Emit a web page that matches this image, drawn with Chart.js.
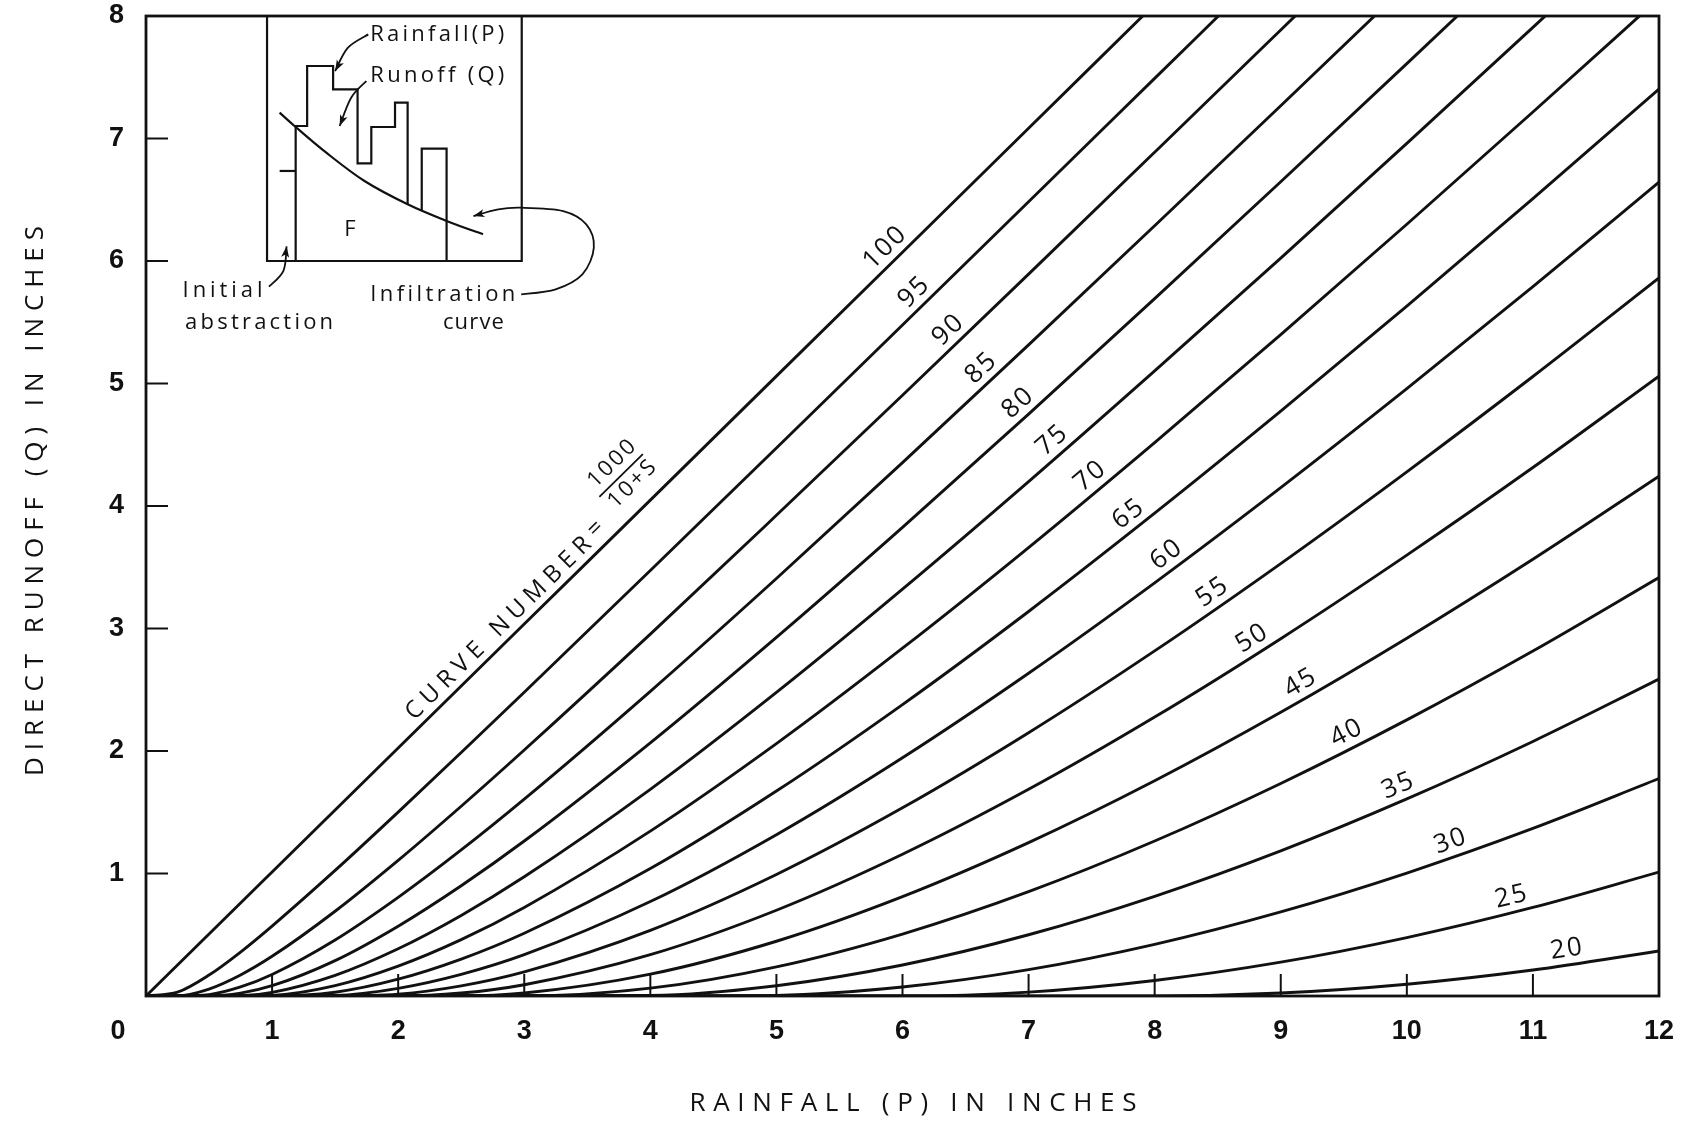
<!DOCTYPE html>
<html><head><meta charset="utf-8">
<script src="https://cdn.jsdelivr.net/npm/chart.js@4.4.1/dist/chart.umd.min.js"></script>
<style>html,body{margin:0;padding:0;background:#fff;}canvas{display:block;}</style>
</head><body>
<canvas id="c" width="1689" height="1128"></canvas>
<script>
// ---- data ----
const rainfall = [0,0.25,0.5,0.75,1,1.5,2,2.5,3,4,5,6,7,8,9,10,11,12];
const curveNumbers = [100,95,90,85,80,75,70,65,60,55,50,45,40,35,30,25,20];
const runoffCN100 = [0,0.253,0.506,0.759,1.012,1.518,2.024,2.53,3.036,4.048,5.06,6.072,7.084,8.096,9.108,10.12,11.132,12.144];
const runoffCN95 = [0,0.031,0.171,0.359,0.571,1.025,1.501,1.988,2.479,3.473,4.473,5.477,6.483,7.491,8.499,9.509,10.518,11.528];
const runoffCN90 = [0,0.001,0.057,0.172,0.324,0.692,1.107,1.549,2.008,2.954,3.924,4.904,5.893,6.888,7.886,8.885,9.888,10.892];
const runoffCN85 = [0,0,0.011,0.074,0.176,0.457,0.805,1.192,1.607,2.487,3.408,4.354,5.315,6.288,7.267,8.253,9.243,10.235];
const runoffCN80 = [0,0,0,0.023,0.084,0.289,0.570,0.900,1.265,2.067,2.928,3.826,4.750,5.693,6.647,7.611,8.583,9.559];
const runoffCN75 = [0,0,0,0.002,0.030,0.169,0.386,0.658,0.973,1.687,2.478,3.321,4.199,5.103,6.023,6.960,7.907,8.862];
const runoffCN70 = [0,0,0,0,0.005,0.085,0.244,0.460,0.723,1.346,2.060,2.839,3.661,4.518,5.399,6.300,7.216,8.144];
const runoffCN65 = [0,0,0,0,0,0.031,0.137,0.301,0.512,1.040,1.673,2.379,3.139,3.941,4.774,5.632,6.509,7.404];
const runoffCN60 = [0,0,0,0,0,0.004,0.062,0.176,0.337,0.771,1.317,1.945,2.635,3.373,4.150,4.958,5.790,6.643];
const runoffCN55 = [0,0,0,0,0,0,0.015,0.083,0.197,0.536,0.992,1.536,2.149,2.817,3.530,4.279,5.057,5.862];
const runoffCN50 = [0,0,0,0,0,0,0,0.024,0.092,0.337,0.700,1.157,1.687,2.277,2.917,3.599,4.314,5.060];
const runoffCN45 = [0,0,0,0,0,0,0,0,0.024,0.178,0.447,0.811,1.252,1.757,2.316,2.921,3.565,4.243];
const runoffCN40 = [0,0,0,0,0,0,0,0,0,0.064,0.238,0.506,0.852,1.265,1.735,2.254,2.816,3.416];
const runoffCN35 = [0,0,0,0,0,0,0,0,0,0.004,0.084,0.253,0.500,0.814,1.185,1.609,2.078,2.587];
const runoffCN30 = [0,0,0,0,0,0,0,0,0,0,0.005,0.073,0.215,0.422,0.687,1.004,1.368,1.775];
const runoffCN25 = [0,0,0,0,0,0,0,0,0,0,0,0,0.032,0.127,0.276,0.477,0.723,1.012];
const runoffCN20 = [0,0,0,0,0,0,0,0,0,0,0,0,0,0,0.024,0.096,0.212,0.368];
const runoffSeries = [runoffCN100,runoffCN95,runoffCN90,runoffCN85,runoffCN80,runoffCN75,runoffCN70,runoffCN65,runoffCN60,runoffCN55,runoffCN50,runoffCN45,runoffCN40,runoffCN35,runoffCN30,runoffCN25,runoffCN20];
const xTickValues = [0,1,2,3,4,5,6,7,8,9,10,11,12];
const yTickValues = [0,1,2,3,4,5,6,7,8];
const xTitle = 'RAINFALL (P) IN INCHES';
const yTitle = 'DIRECT RUNOFF (Q) IN INCHES';

// ---- annotation placement (rainfall value where each curve label sits) ----
const labelRainfall = [5.95,6.18,6.45,6.71,7.0,7.27,7.57,7.87,8.17,8.53,8.84,9.22,9.58,9.98,10.39,10.86,11.29];
const noteRainfall = 2.15;

// ---- inset sketch, in chart units (P, Q) ----
const insetBox = [[0.96,8],[0.96,6],[2.98,6],[2.98,8]];
const insetLines = [
  [[1.187,6.0],[1.187,7.102],[1.278,7.102],[1.278,7.592],[1.484,7.592],[1.484,7.401],[1.678,7.401],[1.678,6.797],[1.787,6.797],[1.787,7.094],[1.975,7.094],[1.975,7.293],[2.075,7.293],[2.075,6.457]],
  [[2.187,6.408],[2.187,6.917],[2.384,6.917],[2.384,6.0]],
  [[1.06,6.735],[1.187,6.735]]
];
const infiltrationCurve = [[1.06,7.211],[1.187,7.094],[1.43,6.884],[1.733,6.653],[2.075,6.463],[2.384,6.327],[2.673,6.218]];
const insetArrows = [
  [[1.763,7.85],[1.60,7.74],[1.50,7.55]],
  [[1.748,7.469],[1.627,7.333],[1.536,7.102]],
  [[0.975,5.79],[1.09,5.92],[1.115,6.12]],
  [[2.976,5.728],[3.249,5.769],[3.461,5.891],[3.552,6.109],[3.492,6.299],[3.309,6.408],[2.976,6.435],[2.794,6.422],[2.597,6.367]]
];
const insetTexts = [
  ['Rainfall(P)',1.779,7.85,134],
  ['Runoff (Q)',1.779,7.51,134],
  ['Initial',0.29,5.755,80],
  ['abstraction',0.31,5.497,148],
  ['Infiltration',1.779,5.728,145],
  ['curve',2.355,5.497,61],
  ['F',1.62,6.258,0]
];

const INK = '#111';

function fitText(ctx, text, x, y, width) {
  ctx.letterSpacing = '0px';
  const w0 = ctx.measureText(text).width;
  const n = text.length;
  if (width > 0 && n > 1) {
    const sp = (width - w0) / (n - 1);
    ctx.letterSpacing = sp + 'px';
  }
  ctx.textAlign = 'left';
  ctx.fillText(text, x, y);
  ctx.letterSpacing = '0px';
}

function smoothPath(ctx, pts) {
  ctx.beginPath();
  ctx.moveTo(pts[0][0], pts[0][1]);
  let lastCp = pts[0];
  for (let i = 0; i < pts.length - 1; i++) {
    const p0 = pts[i - 1] || pts[i], p1 = pts[i], p2 = pts[i + 1], p3 = pts[i + 2] || pts[i + 1];
    const c1 = [p1[0] + (p2[0] - p0[0]) / 6, p1[1] + (p2[1] - p0[1]) / 6];
    const c2 = [p2[0] - (p3[0] - p1[0]) / 6, p2[1] - (p3[1] - p1[1]) / 6];
    ctx.bezierCurveTo(c1[0], c1[1], c2[0], c2[1], p2[0], p2[1]);
    lastCp = c2;
  }
  ctx.stroke();
  return lastCp;
}

function arrowHead(ctx, from, to, len, half) {
  const a = Math.atan2(to[1] - from[1], to[0] - from[0]);
  ctx.save();
  ctx.translate(to[0], to[1]);
  ctx.rotate(a);
  ctx.beginPath();
  ctx.moveTo(0, 0);
  ctx.lineTo(-len, -half);
  ctx.lineTo(-len * 0.75, 0);
  ctx.lineTo(-len, half);
  ctx.closePath();
  ctx.fill();
  ctx.restore();
}

function pointOnCurve(chart, i, P) {
  const meta = chart.getDatasetMeta(i);
  let k = 0;
  while (k < rainfall.length - 2 && rainfall[k + 1] < P) k++;
  const a = meta.data[k], b = meta.data[k + 1];
  const t = (P - rainfall[k]) / (rainfall[k + 1] - rainfall[k]);
  return { x: a.x + (b.x - a.x) * t, y: a.y + (b.y - a.y) * t, ang: Math.atan2(b.y - a.y, b.x - a.x) };
}

const decor = {
  id: 'decor',
  afterDatasetsDraw(chart) {
    const ctx = chart.ctx;
    const xs = chart.scales.x, ys = chart.scales.y;
    const X = p => xs.getPixelForValue(p), Y = q => ys.getPixelForValue(q);
    const ca = chart.chartArea;
    ctx.save();
    ctx.strokeStyle = INK; ctx.fillStyle = INK;

    // frame
    ctx.lineWidth = 2.8;
    ctx.strokeRect(ca.left, ca.top, ca.right - ca.left, ca.bottom - ca.top);

    // inner tick marks
    ctx.lineWidth = 2;
    yTickValues.forEach(v => {
      if (v <= 0 || v >= 8) return;
      ctx.beginPath(); ctx.moveTo(ca.left, Y(v)); ctx.lineTo(ca.left + 22, Y(v)); ctx.stroke();
    });
    xTickValues.forEach(v => {
      if (v <= 0 || v >= 12) return;
      ctx.beginPath(); ctx.moveTo(X(v), ca.bottom); ctx.lineTo(X(v), ca.bottom - 22); ctx.stroke();
    });

    // origin label
    ctx.font = 'bold 27px "Liberation Sans", Arial, sans-serif';
    ctx.textAlign = 'center'; ctx.textBaseline = 'middle';
    ctx.fillText('0', 118, 1032);

    // curve labels
    ctx.font = '26px "Open Sans", sans-serif';
    curveNumbers.forEach((cn, i) => {
      const p = pointOnCurve(chart, i, labelRainfall[i]);
      ctx.save();
      ctx.translate(p.x, p.y); ctx.rotate(p.ang);
      ctx.textBaseline = 'alphabetic';
      ctx.letterSpacing = '2px';
      const w = ctx.measureText(String(cn)).width;
      ctx.textAlign = 'left';
      ctx.fillText(String(cn), -w / 2, -8);
      ctx.letterSpacing = '0px';
      ctx.restore();
    });

    // "CURVE NUMBER = 1000/(10+S)" along the 100 curve
    {
      const p = pointOnCurve(chart, 0, noteRainfall);
      ctx.save();
      ctx.translate(p.x, p.y); ctx.rotate(p.ang);
      ctx.textBaseline = 'alphabetic';
      ctx.font = '24px "Open Sans", sans-serif';
      fitText(ctx, 'CURVE NUMBER', 4, -8, 250);
      ctx.textAlign = 'center'; ctx.textBaseline = 'middle';
      ctx.fillText('=', 268, -18);
      ctx.font = '22px "Open Sans", sans-serif';
      ctx.textBaseline = 'middle';
      fitText(ctx, '1000', 296, -53, 58);
      fitText(ctx, '10+S', 296, -24, 58);
      ctx.lineWidth = 1.8;
      ctx.beginPath(); ctx.moveTo(293, -38); ctx.lineTo(354, -38); ctx.stroke();
      ctx.restore();
    }

    // inset sketch
    ctx.lineWidth = 2.2;
    ctx.lineJoin = 'miter';
    ctx.beginPath();
    insetBox.forEach((p, i) => { const px = X(p[0]), py = Y(p[1]); i ? ctx.lineTo(px, py) : ctx.moveTo(px, py); });
    ctx.stroke();
    insetLines.forEach(line => {
      ctx.beginPath();
      line.forEach((p, i) => { const px = X(p[0]), py = Y(p[1]); i ? ctx.lineTo(px, py) : ctx.moveTo(px, py); });
      ctx.stroke();
    });
    smoothPath(ctx, infiltrationCurve.map(p => [X(p[0]), Y(p[1])]));
    ctx.lineWidth = 1.8;
    insetArrows.forEach(arr => {
      const pts = arr.map(p => [X(p[0]), Y(p[1])]);
      const cp = smoothPath(ctx, pts);
      arrowHead(ctx, cp, pts[pts.length - 1], 11, 4);
    });
    ctx.font = '22px "Open Sans", sans-serif';
    ctx.textBaseline = 'middle';
    insetTexts.forEach(tx => {
      fitText(ctx, tx[0], X(tx[1]) - (tx[3] ? 0 : 6), Y(tx[2]), tx[3]);
    });

    // axis titles
    ctx.font = '26px "Open Sans", sans-serif';
    ctx.textBaseline = 'middle';
    fitText(ctx, xTitle, 913 - 447 / 2, 1104, 447);
    ctx.save();
    ctx.translate(36, 501); ctx.rotate(-Math.PI / 2);
    fitText(ctx, yTitle, -275, 0, 550);
    ctx.restore();

    ctx.restore();
  }
};

const datasets = curveNumbers.map((cn, i) => ({
  label: 'CN ' + cn,
  data: rainfall.map((p, j) => ({ x: p, y: runoffSeries[i][j] })),
  borderColor: INK,
  borderWidth: 2.9,
  pointRadius: 0,
  fill: false,
  cubicInterpolationMode: 'monotone'
}));

const tickFont = { family: '"Liberation Sans", Arial, sans-serif', weight: 'bold', size: 27 };

const chart = new Chart(document.getElementById('c'), {
  type: 'line',
  data: { datasets },
  options: {
    responsive: false,
    animation: false,
    layout: { padding: { top: 16, right: 30, left: 0, bottom: 0 } },
    plugins: { legend: { display: false }, tooltip: { enabled: false } },
    scales: {
      x: {
        type: 'linear', min: 0, max: 12,
        afterBuildTicks: s => { s.ticks = xTickValues.map(v => ({ value: v })); },
        ticks: { font: tickFont, color: INK, padding: 19, maxRotation: 0, callback: v => v === 0 ? '' : String(v) },
        grid: { display: false, drawTicks: false },
        border: { display: false },
        afterFit: s => { s.height = 132; s.paddingLeft = 0; s.paddingRight = 0; }
      },
      y: {
        type: 'linear', min: 0, max: 8,
        afterBuildTicks: s => { s.ticks = yTickValues.map(v => ({ value: v })); },
        ticks: { font: tickFont, color: INK, padding: 22, callback: v => v === 0 ? '' : String(v) },
        grid: { display: false, drawTicks: false },
        border: { display: false },
        afterFit: s => { s.width = 146; s.paddingTop = 0; s.paddingBottom = 0; }
      }
    }
  },
  plugins: [decor]
});
</script>
</body></html>
